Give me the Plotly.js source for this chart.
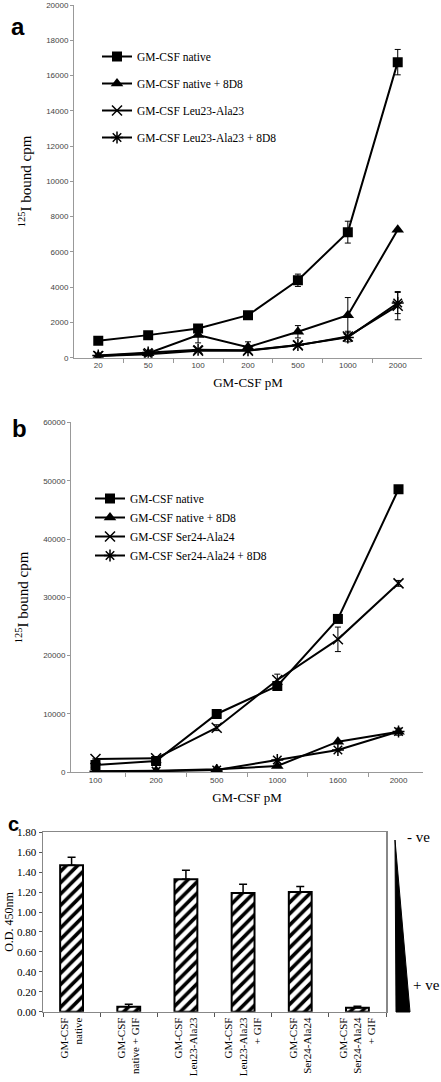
<!DOCTYPE html>
<html>
<head>
<meta charset="utf-8">
<script src="https://cdn.plot.ly/plotly-3.0.1.min.js"></script>
<style>html,body{margin:0;padding:0;background:#fff;}#chart{width:441px;height:1082px;}</style>
</head>
<body>
<div id="chart"></div>
<script>
// ---------- Panel a data ----------
const aCats = ['20', '50', '100', '200', '500', '1000', '2000'];
const aNative = [960, 1280, 1660, 2410, 4390, 7120, 16760];
const aNativeErr = [null, null, null, null, 350, 620, 720];
const aNative8D8 = [100, 250, 1290, 600, 1470, 2410, 7250];
const aNative8D8Err = [null, null, 450, 300, 350, 1000, null];
const aLeu = [100, 200, 400, 400, 700, 1200, 2950];
const aLeuErr = [null, null, null, null, null, 300, 800];
const aLeu8D8 = [120, 300, 450, 420, 720, 1150, 3100];
const aLeu8D8Err = [null, null, null, null, null, null, 600];
const aNames = ['GM-CSF native', 'GM-CSF native + 8D8', 'GM-CSF Leu23-Ala23', 'GM-CSF Leu23-Ala23 + 8D8'];

// ---------- Panel b data ----------
const bCats = ['100', '200', '500', '1000', '1600', '2000'];
const bNative = [1250, 1940, 10000, 14800, 26300, 48540];
const bNativeErr = [null, null, null, null, null, 400];
const bNative8D8 = [200, 250, 510, 1080, 5250, 6960];
const bNative8D8Err = [null, null, null, null, null, 600];
const bSer = [2280, 2400, 7650, 15830, 22800, 32400];
const bSerErr = [null, null, 500, 1000, 2100, 500];
const bSer8D8 = [200, 200, 400, 2100, 3830, 7000];
const bSer8D8Err = [null, null, null, null, null, null];
const bNames = ['GM-CSF native', 'GM-CSF native + 8D8', 'GM-CSF Ser24-Ala24', 'GM-CSF Ser24-Ala24 + 8D8'];

// ---------- Panel c data ----------
const cCats = ['GM-CSF<br>native', 'GM-CSF<br>native + GIF', 'GM-CSF<br>Leu23-Ala23',
  'GM-CSF<br>Leu23-Ala23<br>+ GIF', 'GM-CSF<br>Ser24-Ala24', 'GM-CSF<br>Ser24-Ala24<br>+ GIF'];
const cVals = [1.47, 0.05, 1.33, 1.19, 1.20, 0.04];
const cErr = [0.08, 0.025, 0.09, 0.09, 0.055, 0.015];

// ---------- styles ----------
const SERIF = 'Liberation Serif, "Times New Roman", serif';
const SANS = 'Liberation Sans, Arial, sans-serif';
const symbols = [
  {symbol: 'square', size: 10},
  {symbol: 'triangle-up', size: 11},
  {symbol: 'x-thin-open', size: 10, line: {width: 1.5, color: '#000'}},
  {symbol: 'asterisk-open', size: 10, line: {width: 1.5, color: '#000'}}
];

function lineTrace(cats, vals, errs, i, name, xa, ya, legend, grp) {
  const m = Object.assign({color: '#000'}, symbols[i]);
  return {
    type: 'scatter', mode: 'lines+markers', x: cats, y: vals, name: name,
    xaxis: xa, yaxis: ya, legend: legend, legendgroup: grp,
    line: {color: '#000', width: 2}, marker: m,
    error_y: {type: 'data', array: errs, visible: true, color: '#000', thickness: 1, width: 3},
    hoverinfo: 'skip'
  };
}

const data = [
  lineTrace(aCats, aNative, aNativeErr, 0, aNames[0], 'x', 'y', 'legend', 'a0'),
  lineTrace(aCats, aNative8D8, aNative8D8Err, 1, aNames[1], 'x', 'y', 'legend', 'a1'),
  lineTrace(aCats, aLeu, aLeuErr, 2, aNames[2], 'x', 'y', 'legend', 'a2'),
  lineTrace(aCats, aLeu8D8, aLeu8D8Err, 3, aNames[3], 'x', 'y', 'legend', 'a3'),
  lineTrace(bCats, bNative, bNativeErr, 0, bNames[0], 'x2', 'y2', 'legend2', 'b0'),
  lineTrace(bCats, bNative8D8, bNative8D8Err, 1, bNames[1], 'x2', 'y2', 'legend2', 'b1'),
  lineTrace(bCats, bSer, bSerErr, 2, bNames[2], 'x2', 'y2', 'legend2', 'b2'),
  lineTrace(bCats, bSer8D8, bSer8D8Err, 3, bNames[3], 'x2', 'y2', 'legend2', 'b3'),
  {
    type: 'bar', x: cCats, y: cVals, xaxis: 'x3', yaxis: 'y3', showlegend: false,
    marker: {color: '#fff', line: {color: '#000', width: 2},
      pattern: {shape: '/', fgcolor: '#000', bgcolor: '#fff', size: 8, solidity: 0.45}},
    error_y: {type: 'data', symmetric: false, array: cErr, arrayminus: cErr.map(() => 0),
      color: '#000', thickness: 1.5, width: 4},
    hoverinfo: 'skip'
  }
];

const H = 1082, W = 441;
const px = v => v / W;
const py = v => 1 - v / H;

const catAxis = (dom, anchor) => ({
  domain: dom, anchor: anchor, type: 'category', showline: true, linecolor: '#999', linewidth: 1,
  ticks: 'outside', tickson: 'boundaries', ticklen: 4, tickcolor: '#999',
  tickfont: {family: SANS, size: 8, color: '#444'}, showgrid: false, zeroline: false,
  title: {text: 'GM-CSF pM', font: {family: SERIF, size: 13, color: '#000'}, standoff: 8}
});
const valAxis = (dom, anchor, rng, dt) => ({
  domain: dom, anchor: anchor, range: rng, dtick: dt, showline: true, linecolor: '#999', linewidth: 1,
  ticks: 'outside', ticklen: 3, tickcolor: '#999', tickformat: 'd',
  tickfont: {family: SANS, size: 8, color: '#444'}, showgrid: false, zeroline: false,
  title: {text: '<sup>125</sup>I bound cpm', font: {family: SERIF, size: 15, color: '#000'}, standoff: 10}
});

const layout = {
  width: W, height: H, margin: {l: 0, r: 0, t: 0, b: 0},
  paper_bgcolor: '#fff', plot_bgcolor: '#fff',
  font: {family: SERIF, color: '#000'},
  showlegend: true,
  xaxis: catAxis([px(74), px(422)], 'y'),
  yaxis: valAxis([py(357.7), py(5)], 'x', [0, 20000], 2000),
  xaxis2: catAxis([px(71), px(423)], 'y2'),
  yaxis2: valAxis([py(772.3), py(422.4)], 'x2', [0, 60000], 10000),
  xaxis3: {
    domain: [px(43), px(386)], anchor: 'y3', type: 'category', showline: true, mirror: true,
    linecolor: '#888', linewidth: 1.5, ticks: 'outside', tickson: 'boundaries', ticklen: 4,
    tickcolor: '#555', tickangle: -90, tickfont: {family: SERIF, size: 11, color: '#000'},
    showgrid: false, zeroline: false
  },
  yaxis3: {
    domain: [py(1011.7), py(832.3)], anchor: 'x3', range: [0, 1.8], dtick: 0.2, tickformat: '.2f',
    showline: true, mirror: true, linecolor: '#888', linewidth: 1.5, ticks: 'outside', ticklen: 3,
    tickcolor: '#555', tickfont: {family: SERIF, size: 11, color: '#000'},
    showgrid: false, zeroline: false,
    title: {text: 'O.D. 450nm', font: {family: SERIF, size: 12, color: '#000'}, standoff: 1}
  },
  bargap: 0.6,
  legend: {x: px(97), y: py(42), xanchor: 'left', yanchor: 'top', bgcolor: 'rgba(0,0,0,0)',
    font: {family: SERIF, size: 11.5, color: '#000'}, tracegroupgap: 8, itemwidth: 30},
  legend2: {x: px(90), y: py(484), xanchor: 'left', yanchor: 'top', bgcolor: 'rgba(0,0,0,0)',
    font: {family: SERIF, size: 11.5, color: '#000'}, tracegroupgap: 0, itemwidth: 30},
  annotations: [
    {text: '<b>a</b>', xref: 'paper', yref: 'paper', x: px(9), y: py(11), showarrow: false,
      font: {family: SANS, size: 24, color: '#000'}},
    {text: '<b>b</b>', xref: 'paper', yref: 'paper', x: px(10), y: py(428), showarrow: false,
      font: {family: SANS, size: 24, color: '#000'}},
    {text: '<b>c</b>', xref: 'paper', yref: 'paper', x: px(7), y: py(836), showarrow: false,
      borderpad: 0, font: {family: SANS, size: 20, color: '#000'}},
    {text: '- ve', xref: 'paper', yref: 'paper', x: px(405), y: py(847), xanchor: 'left', showarrow: false,
      font: {family: SERIF, size: 15, color: '#000'}},
    {text: '+ ve', xref: 'paper', yref: 'paper', x: px(411), y: py(995), xanchor: 'left', showarrow: false,
      font: {family: SERIF, size: 15, color: '#000'}}
  ],
  shapes: [
    {type: 'path', xref: 'paper', yref: 'paper',
      path: 'M ' + px(395) + ' ' + py(840) + ' L ' + px(396) + ' ' + py(1012) + ' L ' + px(410) + ' ' + py(1012) + ' Z',
      fillcolor: '#000', line: {color: '#000', width: 1}}
  ]
};

Plotly.newPlot('chart', data, layout, {staticPlot: true, displayModeBar: false});
</script>
</body>
</html>
